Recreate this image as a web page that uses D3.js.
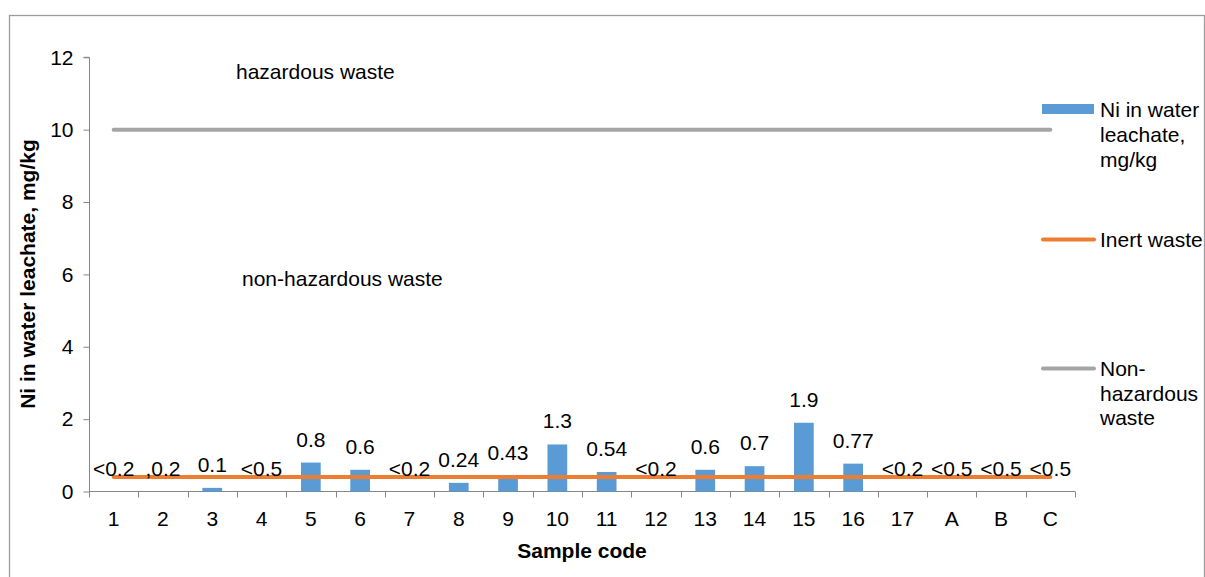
<!DOCTYPE html>
<html>
<head>
<meta charset="utf-8">
<script src="https://cdn.jsdelivr.net/npm/d3@7"></script>
<style>
  html, body { margin: 0; padding: 0; background: #fff; }
  svg { display: block; font-family: "Liberation Sans", Arial, sans-serif; }
</style>
</head>
<body>
<svg id="chart" width="1205" height="577"></svg>
<script>
// Sample codes along the x axis
const categories = ["1","2","3","4","5","6","7","8","9","10","11","12","13","14","15","16","17","A","B","C"];
// Ni in water leachate, mg/kg (null = below detection limit, no bar)
const niValues = [null, null, 0.1, null, 0.8, 0.6, null, 0.24, 0.43, 1.3, 0.54, null, 0.6, 0.7, 1.9, 0.77, null, null, null, null];
// Text printed above each sample
const niLabels = ["<0.2", ",0.2", "0.1", "<0.5", "0.8", "0.6", "<0.2", "0.24", "0.43", "1.3", "0.54", "<0.2", "0.6", "0.7", "1.9", "0.77", "<0.2", "<0.5", "<0.5", "<0.5"];
// Limit values, mg/kg
const inertWaste = [0.4,0.4,0.4,0.4,0.4,0.4,0.4,0.4,0.4,0.4,0.4,0.4,0.4,0.4,0.4,0.4,0.4,0.4,0.4,0.4];
const nonHazardousWaste = [10,10,10,10,10,10,10,10,10,10,10,10,10,10,10,10,10,10,10,10];
const yTicks = [0, 2, 4, 6, 8, 10, 12];

const BLUE = "#5B9BD5", ORANGE = "#ED7D31", GREY = "#A5A5A5", AXIS = "#868686";
const FS = 21;

const svg = d3.select("#chart");

// outer chart frame
svg.append("rect")
  .attr("x", 9.5).attr("y", 15.5)
  .attr("width", 1195).attr("height", 600)
  .attr("fill", "none").attr("stroke", "#9c9c9c").attr("stroke-width", 1.3);

const x = d3.scaleBand().domain(categories).range([89, 1075]).padding(0);
const y = d3.scaleLinear().domain([0, 12]).range([491.5, 57.3]);
const cx = d => x(d) + x.bandwidth() / 2;

// y axis
const yAxis = svg.append("g").attr("transform", "translate(89.5,0)")
  .call(d3.axisLeft(y).tickValues(yTicks).tickSize(6).tickPadding(10).tickFormat(d3.format("d")));
yAxis.select(".domain").attr("stroke", AXIS).attr("d", `M-6,${y(12)}H0V${y(0)}`);
yAxis.selectAll(".tick line").attr("stroke", AXIS);
yAxis.selectAll(".tick text").attr("font-size", FS).attr("fill", "#000")
  .attr("font-family", "Liberation Sans, Arial, sans-serif");

// x axis: ticks on category boundaries
const xg = svg.append("g");
xg.append("line").attr("x1", 89).attr("x2", 1075).attr("y1", 491.5).attr("y2", 491.5)
  .attr("stroke", AXIS).attr("stroke-width", 1);
const bounds = categories.map(c => x(c)).concat([x.range()[1]]);
xg.selectAll("line.tk").data(bounds).join("line").attr("class", "tk")
  .attr("x1", d => Math.round(d) + 0.5).attr("x2", d => Math.round(d) + 0.5)
  .attr("y1", 491.5).attr("y2", 497.5).attr("stroke", AXIS);
xg.selectAll("text").data(categories).join("text")
  .attr("x", d => cx(d)).attr("y", 525.5)
  .attr("text-anchor", "middle").attr("font-size", FS).attr("fill", "#000")
  .text(d => d);

// bars
const barW = x.bandwidth() * 0.4;
svg.append("g").selectAll("rect")
  .data(categories.map((c, i) => ({ c, v: niValues[i] })).filter(d => d.v != null))
  .join("rect")
  .attr("x", d => cx(d.c) - barW / 2)
  .attr("y", d => y(d.v))
  .attr("width", barW)
  .attr("height", d => y(0) - y(d.v))
  .attr("fill", BLUE);

// limit lines
const line = d3.line().x(d => cx(d.c)).y(d => y(d.v));
svg.append("path")
  .datum(categories.map((c, i) => ({ c, v: nonHazardousWaste[i] })))
  .attr("d", line).attr("fill", "none").attr("stroke", GREY)
  .attr("stroke-width", 4).attr("stroke-linecap", "round");
svg.append("path")
  .datum(categories.map((c, i) => ({ c, v: inertWaste[i] })))
  .attr("d", line).attr("fill", "none").attr("stroke", ORANGE)
  .attr("stroke-width", 4).attr("stroke-linecap", "round");

// data labels
svg.append("g").selectAll("text")
  .data(categories.map((c, i) => ({ c, v: niValues[i] || 0, t: niLabels[i] })))
  .join("text")
  .attr("x", d => cx(d.c))
  .attr("y", d => y(d.v) - 16)
  .attr("text-anchor", "middle").attr("font-size", FS).attr("fill", "#000")
  .text(d => d.t);

// zone annotations
svg.append("text").attr("x", 236).attr("y", 79).attr("font-size", FS).text("hazardous waste");
svg.append("text").attr("x", 242).attr("y", 286).attr("font-size", FS).text("non-hazardous waste");

// axis titles
svg.append("text").attr("x", 582).attr("y", 557.5).attr("text-anchor", "middle")
  .attr("font-size", FS).attr("font-weight", "bold").text("Sample code");
svg.append("text").attr("transform", "translate(35,274) rotate(-90)")
  .attr("text-anchor", "middle").attr("font-size", FS).attr("font-weight", "bold")
  .text("Ni in water leachate, mg/kg");

// legend
const lg = svg.append("g");
lg.append("rect").attr("x", 1042).attr("y", 104).attr("width", 52).attr("height", 10).attr("fill", BLUE);
["Ni in water", "leachate,", "mg/kg"].forEach((t, i) =>
  lg.append("text").attr("x", 1100).attr("y", 117 + i * 25).attr("font-size", FS).text(t));
lg.append("line").attr("x1", 1043).attr("x2", 1094).attr("y1", 239.5).attr("y2", 239.5)
  .attr("stroke", ORANGE).attr("stroke-width", 4).attr("stroke-linecap", "round");
lg.append("text").attr("x", 1100).attr("y", 247).attr("font-size", FS).text("Inert waste");
lg.append("line").attr("x1", 1043).attr("x2", 1094).attr("y1", 368.5).attr("y2", 368.5)
  .attr("stroke", GREY).attr("stroke-width", 4).attr("stroke-linecap", "round");
["Non-", "hazardous", "waste"].forEach((t, i) =>
  lg.append("text").attr("x", 1100).attr("y", 376 + i * 24.5).attr("font-size", FS).text(t));
</script>
</body>
</html>
